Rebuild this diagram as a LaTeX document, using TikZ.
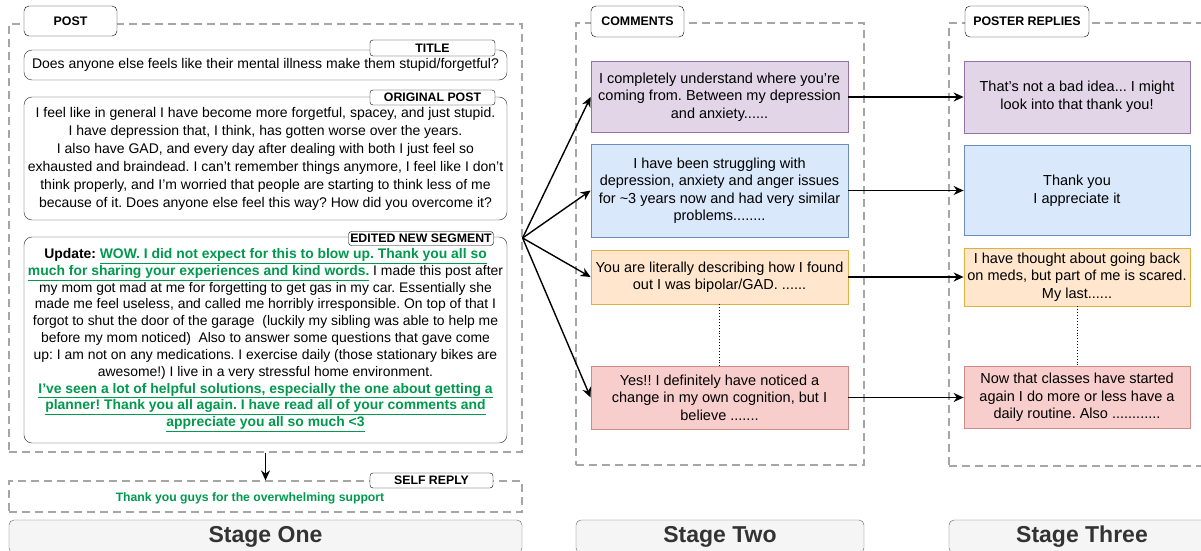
\documentclass[tikz,border=0pt]{standalone}
\usepackage{fontspec}
\setmainfont{Liberation Sans}
\usetikzlibrary{positioning}
\usetikzlibrary{arrows.meta}
\frenchspacing
\definecolor{okgreen}{HTML}{00994D}
\definecolor{pfill}{HTML}{E1D5E7}
\definecolor{pline}{HTML}{9673A6}
\definecolor{bfill}{HTML}{DAE8FC}
\definecolor{bline}{HTML}{6C8EBF}
\definecolor{ofill}{HTML}{FFE6CC}
\definecolor{oline}{HTML}{E0B040}
\definecolor{rfill}{HTML}{F8CECC}
\definecolor{rline}{HTML}{D08A88}
\newcommand{\gu}[1]{\textbf{\color{okgreen}\underline{#1}}}
\tikzset{
group/.style={ % Dashed frame round each stage
draw=gray!70,
line width=1.2pt,
dash pattern=on 8pt off 5pt},
tab/.style={ % Label sitting on a frame
draw,
fill=white,
rounded corners=5pt,
inner sep=0pt,
font=\bfseries\fontsize{12.4}{14}\selectfont},
tag/.style={ % Small label on a post box
draw,
fill=white,
rounded corners=3pt,
inner sep=0pt,
font=\bfseries\fontsize{12.3}{14}\selectfont},
postbox/.style={
draw=black!85,
fill=white,
rounded corners=8pt,
inner sep=0pt,
align=center,
font=\fontsize{14}{18}\selectfont},
msg/.style={ % Comment and reply boxes
inner sep=0pt,
align=center,
line width=0.8pt,
font=\fontsize{14.5}{17.5}\selectfont},
purplebox/.style={msg, fill=pfill, draw=pline},
bluebox/.style={msg, fill=bfill, draw=bline},
orangebox/.style={msg, fill=ofill, draw=oline},
redbox/.style={msg, fill=rfill, draw=rline},
stagebar/.style={
draw=gray!75!black,
fill=gray!8,
rounded corners=5pt,
inner sep=0pt,
text=black!80,
font=\bfseries\fontsize{23}{27}\selectfont},
link/.style={ % Directed connectors
-{Stealth[length=10pt, width=9pt]},
line width=1.4pt}}
\begin{document}
\begin{tikzpicture}[x=1pt, y=-1pt]
	\useasboundingbox (0,0) rectangle (1201,551);
	% stage one
	\node[group, minimum width=513pt, minimum height=428pt] (post) at (265.5,238) {};
	\node[tab, minimum width=93pt, minimum height=30pt] (posttab) at (70.5,21) {POST};
	\node[postbox, minimum width=483pt, minimum height=30pt] (title) at (265.5,65)
		{Does anyone else feels like their mental illness make them stupid/forgetful?};
	\node[tag, minimum width=125pt, minimum height=16pt] (titletag) at (432.5,48) {TITLE};
	\node[postbox, minimum width=483pt, minimum height=123pt] (orig) at (265.5,158.5)
		{I feel like in general I have become more forgetful, spacey, and just stupid.\\
		I have depression that, I think, has gotten worse over the years.\\
		I also have GAD, and every day after dealing with both I just feel so\\
		exhausted and braindead. I can't remember things anymore, I feel like I don't\\
		think properly, and I'm worried that people are starting to think less of me\\
		because of it. Does anyone else feel this way? How did you overcome it?};
	\node[tag, minimum width=125pt, minimum height=15pt] (origtag) at (432.5,97.5) {ORIGINAL POST};
	\node[postbox, minimum width=483pt, minimum height=206pt, font=\fontsize{13.9}{16.8}\selectfont] (edit) at (265.5,340)
		{\textbf{Update:} \gu{WOW. I did not expect for this to blow up. Thank you all so}\\
		\gu{much for sharing your experiences and kind words.} I made this post after\\
		my mom got mad at me for forgetting to get gas in my car. Essentially she\\
		made me feel useless, and called me horribly irresponsible. On top of that I\\
		forgot to shut the door of the garage\ \ (luckily my sibling was able to help me\\
		before my mom noticed)\ \ Also to answer some questions that gave come\\
		up: I am not on any medications. I exercise daily (those stationary bikes are\\
		awesome!) I live in a very stressful home environment.\\
		\gu{I've seen a lot of helpful solutions, especially the one about getting a}\\
		\gu{planner! Thank you all again. I have read all of your comments and}\\
		\gu{appreciate you all so much <3}};
	\node[tag, minimum width=145pt, minimum height=14pt] (edittag) at (421,238.5) {EDITED NEW SEGMENT};
	\node[group, minimum width=513pt, minimum height=31pt] (self) at (265.5,496.5) {};
	\node[tag, minimum width=123pt, minimum height=15pt] (selftag) at (431.5,480.5) {SELF REPLY};
	\node[text=okgreen, font=\bfseries\fontsize{12.2}{14}\selectfont] (selftxt) at (250,498)
		{Thank you guys for the overwhelming support};
	\node[stagebar, minimum width=513pt, minimum height=33pt] (s1) at (265.5,536.5) {Stage One};
	% stage two
	\node[group, minimum width=288pt, minimum height=442pt] (comments) at (720,244) {};
	\node[tab, minimum width=93pt, minimum height=31pt] (commtab) at (637.5,21.5) {COMMENTS};
	\node[purplebox, minimum width=257pt, minimum height=71pt] (c1) at (719.5,97)
		{I completely understand where you're\\coming from. Between my depression\\and anxiety......};
	\node[bluebox, minimum width=257pt, minimum height=93pt] (c2) at (719.5,190.5)
		{I have been struggling with\\depression, anxiety and anger issues\\for \textasciitilde3 years now and had very similar\\problems........};
	\node[orangebox, minimum width=257pt, minimum height=54pt] (c3) at (719.5,277)
		{You are literally describing how I found\\out I was bipolar/GAD. ......};
	\node[redbox, minimum width=257pt, minimum height=63pt] (c4) at (719.5,397.5)
		{Yes!! I definitely have noticed a\\change in my own cognition, but I\\believe .......};
	\node[stagebar, minimum width=288pt, minimum height=33pt] (s2) at (720,536.5) {Stage Two};
	% stage three
	\node[group, minimum width=270pt, minimum height=443pt] (replies) at (1084,244.5) {};
	\node[tab, minimum width=124pt, minimum height=31pt] (reptab) at (1027,21.5) {POSTER REPLIES};
	\node[purplebox, minimum width=226pt, minimum height=72pt] (r1) at (1077,97)
		{That's not a bad idea... I might\\look into that thank you!};
	\node[bluebox, minimum width=226pt, minimum height=90pt] (r2) at (1077,190.5)
		{Thank you\\I appreciate it};
	\node[orangebox, minimum width=226pt, minimum height=58pt] (r3) at (1077,277)
		{I have thought about going back\\on meds, but part of me is scared.\\My last......};
	\node[redbox, minimum width=226pt, minimum height=62pt] (r4) at (1077,397.5)
		{Now that classes have started\\again I do more or less have a\\daily routine. Also ............};
	\node[stagebar, minimum width=266pt, minimum height=33pt] (s3) at (1082,536.5) {Stage Three};
	% connectors
	\draw[link] (post.south) -- (self.north);
	\foreach \i in {1,...,4} {
		\draw[link] (post.east) -- (c\i.west);
		\draw[link] (c\i.east) -- (r\i.west);
	}
	\draw[dotted, line width=0.9pt] (c3.south) -- (c4.north);
	\draw[dotted, line width=0.9pt] (r3.south) -- (r4.north);
\end{tikzpicture}
\end{document}
